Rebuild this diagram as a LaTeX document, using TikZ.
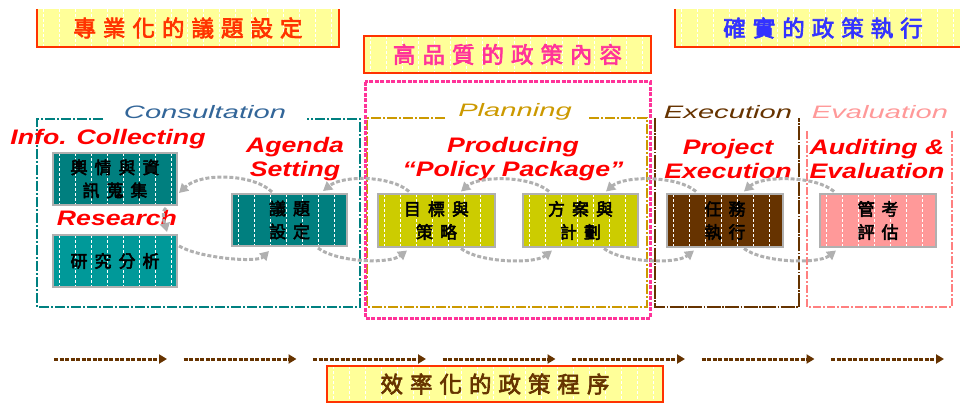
\documentclass[tikz,border=0pt]{standalone}
\usepackage{fontspec}
\setmainfont{Liberation Sans}
\newfontfamily\cjk{Noto Sans CJK TC}[AutoFakeBold=3]
\usetikzlibrary{arrows.meta,calc}
\definecolor{bannerfill}{HTML}{FFFF99}
\definecolor{bannerline}{HTML}{FF3300}
\definecolor{consult}{HTML}{336699}
\definecolor{tealframe}{HTML}{008080}
\definecolor{plangold}{HTML}{CC9900}
\definecolor{execbrown}{HTML}{663300}
\definecolor{evalpink}{HTML}{FF9999}
\definecolor{evalframe}{HTML}{FF8080}
\definecolor{labelred}{HTML}{FF0000}
\definecolor{hotpink}{HTML}{FF3399}
\definecolor{arrowgray}{HTML}{B0B0B0}
\definecolor{tealdark}{HTML}{007F7F}
\definecolor{teallight}{HTML}{009999}
\definecolor{olive}{HTML}{CCCC00}
\definecolor{titleblue}{HTML}{3333FF}
\newcommand\wideT[1]{\scalebox{1.62}[1]{#1}}
\newcommand\wideR[1]{\scalebox{1.27}[1]{#1}}
\newcommand\bgap{\kern7pt}
\newcommand\cgap{\kern7pt}
\tikzset{
  stripes/.style={path picture={\foreach \i in {0,...,21}{\draw[white,line width=0.8pt,dash pattern=on 3pt off 2pt] ($(path picture bounding box.north west)+(6+\i*16,0)$) -- ($(path picture bounding box.south west)+(6+\i*16,0)$);}}},
  banner/.style={fill=bannerfill,inner sep=0,stripes,font=\cjk\bfseries\fontsize{22.5}{24}\selectfont},
  bannerborder/.style={draw=bannerline,line width=2.5pt},
  stage/.style={inner sep=0,font=\fontsize{18}{20}\selectfont\itshape},
  redlabel/.style={inner sep=0,align=center,text=labelred,font=\fontsize{21}{23.5}\selectfont\bfseries\itshape},
  box/.style={minimum height=52pt,inner sep=0,draw=arrowgray,line width=2pt,stripes,align=center,font=\cjk\bfseries\fontsize{17}{23}\selectfont},
  flowarrow/.style={draw=arrowgray,line width=3pt,dash pattern=on 4pt off 2pt,-{Triangle[length=9pt,width=10pt]}},
  steparrow/.style={draw=execbrown,line width=3pt,dash pattern=on 4pt off 1.5pt,-{Triangle[length=8pt,width=9pt]}},
}
\begin{document}
\begin{tikzpicture}[x=1pt,y=-1pt]
\useasboundingbox (0,0) rectangle (960,403);
\clip (0,0) rectangle (960,403);
% frames
\draw[tealframe,line width=2pt,dash pattern=on 10pt off 2pt on 2pt off 2pt]
  (103,119) -- (37,119) -- (37,307) -- (360,307) -- (360,119) -- (307,119);
\draw[plangold,line width=2pt,dash pattern=on 10pt off 2pt on 2pt off 2pt]
  (445,118) -- (367,118) -- (367,307) -- (647,307) -- (647,118) -- (588,118);
\draw[execbrown,line width=2pt,dash pattern=on 14pt off 1.5pt on 1.5pt off 1.5pt]
  (655,118) -- (655,307) -- (799,307) -- (799,118);
\draw[evalframe,line width=2pt,dash pattern=on 8pt off 2pt on 2pt off 2pt]
  (807,131) -- (807,307) -- (952,307) -- (952,131);
\draw[hotpink,line width=3pt,dash pattern=on 4pt off 1.5pt]
  (365,82) rectangle (650,318);
% banners
\node[banner,minimum width=302pt,minimum height=38pt,text=bannerline] (b1) at (188,28)
  {專\bgap 業\bgap 化\bgap 的\bgap 議\bgap 題\bgap 設\bgap 定};
\draw[bannerborder] (b1.north west) -- (b1.south west) -- (b1.south east) -- (b1.north east);
\node[banner,minimum width=287pt,minimum height=37pt,text=hotpink,draw=bannerline,line width=2.5pt] (b2) at (507.5,54.5)
  {高\bgap 品\bgap 質\bgap 的\bgap 政\bgap 策\bgap 內\bgap 容};
\node[banner,minimum width=296pt,minimum height=38pt,text=titleblue] (b3) at (823,28)
  {確\bgap 實\bgap 的\bgap 政\bgap 策\bgap 執\bgap 行};
\draw[bannerborder] (b3.north west) -- (b3.south west) -- (b3.south east);
\node[banner,minimum width=336pt,minimum height=36pt,text=execbrown,draw=bannerline,line width=2.5pt] (b4) at (495,384)
  {效\bgap 率\bgap 化\bgap 的\bgap 政\bgap 策\bgap 程\bgap 序};
% stage labels
\node[stage,text=consult] (lcons) at (205,112) {\wideT{Consultation}};
\node[stage,text=plangold] (lplan) at (515,112) {\wideT{Planning}};
\node[stage,text=execbrown] (lexec) at (728,112) {\wideT{Execution}};
\node[stage,text=evalpink] (leval) at (880,112) {\wideT{Evaluation}};
% red labels
\node[redlabel] (rinfo) at (108,139) {\wideR{Info. Collecting}};
\node[redlabel] (rres) at (117,218) {\wideR{Research}};
\node[redlabel] (ragenda) at (295,159) {\wideR{Agenda}\\\wideR{Setting}};
\node[redlabel] (rprod) at (513,159) {\wideR{Producing}\\\wideR{“Policy Package”}};
\node[redlabel] (rproj) at (728,159) {\wideR{Project}\\\wideR{Execution}};
\node[redlabel] (raudit) at (877,159) {\wideR{Auditing \&}\\\wideR{Evaluation}};
% boxes
\node[box,fill=tealdark,minimum width=124pt] (info) at (115,179) {輿\cgap 情\cgap 與\cgap 資\\訊\cgap 蒐\cgap 集};
\node[box,fill=teallight,minimum width=124pt] (res) at (115,261) {研\cgap 究\cgap 分\cgap 析};
\node[box,fill=tealdark,minimum width=115pt] (agenda) at (289.5,220) {議\cgap 題\\設\cgap 定};
\node[box,fill=olive,minimum width=117pt] (goal) at (436.5,220.5) {目\cgap 標\cgap 與\\策\cgap 略};
\node[box,fill=olive,minimum width=115pt] (plan) at (580.5,220.5) {方\cgap 案\cgap 與\\計\cgap 劃};
\node[box,fill=execbrown,minimum width=116pt] (task) at (725,220.5) {任\cgap 務\\執\cgap 行};
\node[box,fill=evalpink,minimum width=116pt] (audit) at (878,220.5) {管\cgap 考\\評\cgap 估};
% gray arrows
\draw[flowarrow] ($(agenda.north west)+(41,-1)$) .. controls +(-18,-18) and +(22,-21) .. ($(info.east)+(1,14)$);
\draw[flowarrow] ($(info.south east)+(-12,2)$) .. controls +(-6,5) and +(-2,-8) .. ($(res.north east)+(-11,-2)$);
\draw[flowarrow] ($(res.north east)+(1,12)$) .. controls +(20,12) and +(-12,12) .. ($(agenda.south west)+(38,4)$);
\draw[flowarrow] ($(goal.north west)+(32,-2)$) .. controls +(-18,-16) and +(20,-16) .. ($(agenda.north east)+(-25,-2)$);
\draw[flowarrow] ($(agenda.south east)+(-30,1)$) .. controls +(18,14) and +(-18,14) .. ($(goal.south west)+(30,3)$);
\draw[flowarrow] ($(plan.north west)+(27,-2)$) .. controls +(-18,-16) and +(18,-16) .. ($(goal.north west)+(84,-2)$);
\draw[flowarrow] ($(goal.south west)+(84,1)$) .. controls +(18,14) and +(-18,14) .. ($(plan.south west)+(30,3)$);
\draw[flowarrow] ($(task.north west)+(30,-2)$) .. controls +(-18,-16) and +(18,-16) .. ($(plan.north west)+(84,-2)$);
\draw[flowarrow] ($(plan.south west)+(82,1)$) .. controls +(18,14) and +(-18,14) .. ($(task.south west)+(28,3)$);
\draw[flowarrow] ($(audit.north west)+(15,-2)$) .. controls +(-18,-16) and +(18,-16) .. ($(task.north west)+(78,-2)$);
\draw[flowarrow] ($(task.south west)+(78,1)$) .. controls +(18,14) and +(-18,14) .. ($(audit.south west)+(17,3)$);
% bottom process arrows
\foreach \i in {0,...,6}{
  \coordinate (s\i) at (54+129.5*\i,359);
  \coordinate (e\i) at (167+129.5*\i,359);
  \draw[steparrow] (s\i) -- (e\i);
}
\end{tikzpicture}
\end{document}
